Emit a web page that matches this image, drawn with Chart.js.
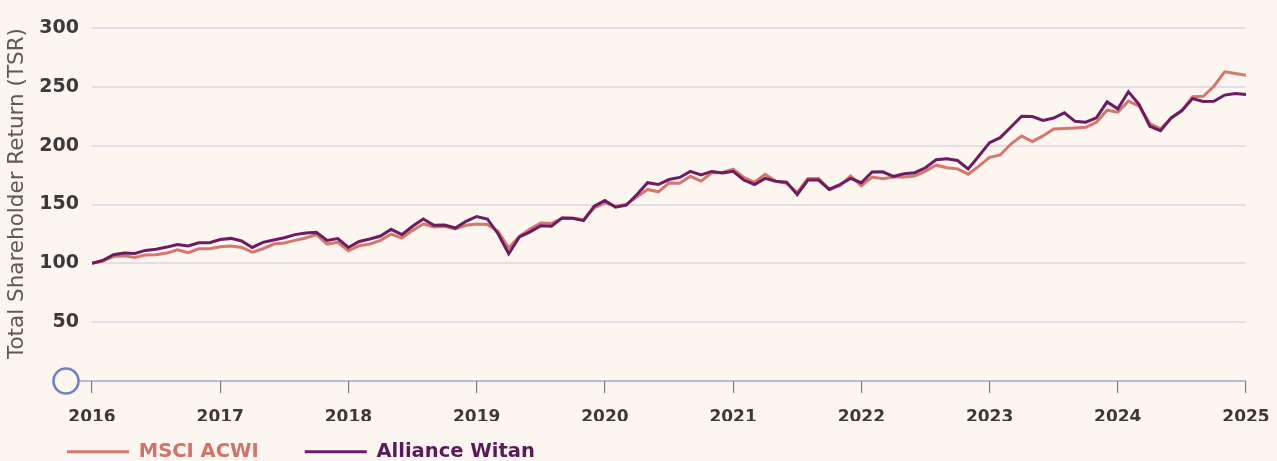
<!DOCTYPE html>
<html>
<head>
<meta charset="utf-8">
<script src="https://cdn.jsdelivr.net/npm/chart.js@4.4.1/dist/chart.umd.min.js"></script>
<style>
html, body { margin: 0; padding: 0; background: #fcf5f0; overflow: hidden; }
#wrap { width: 1277px; height: 461px; }
</style>
</head>
<body>
<div id="wrap"><canvas id="tsr" width="1277" height="461"></canvas></div>
<script>
// monthly TSR, rebased to 100 at start of 2016
var msciAcwi = [
  100, 102, 105.8, 106.4, 105, 107, 107.3, 108.7, 111.5, 109, 112.4, 112.4,
  114, 114.7, 113.5, 109.5, 112.4, 116.4, 117.3, 119.5, 121.5, 124.4, 116.4, 117.8,
  110.7, 115, 116.4, 119.5, 124.9, 121.5, 128, 133.5, 130.9, 131.5, 129.2, 132.3,
  133.5, 133, 127.2, 113, 123, 129.2, 134.3, 133.8, 138.6, 138.3, 137, 147.2,
  151.4, 148.5, 150, 156.6, 162.8, 160.8, 168.2, 168, 174, 169.9, 176.9, 177.2,
  180, 173, 168.9, 175.6, 169.7, 168, 160, 172, 172, 162.8, 166, 174.2,
  166, 173.3, 172, 173.3, 173.3, 174.2, 178.4, 183.4, 181.2, 180.3, 175.8, 182.6,
  190.1, 192.1, 201.4, 208.3, 203.5, 208.3, 214.2, 214.5, 215, 215.6, 219.9, 230.1,
  228.4, 237.8, 233.5, 218.8, 214.2, 223.6, 229.8, 241.5, 242, 250.5, 262.8, 261.4,
  259.9
];
var allianceWitan = [
  100, 102.4, 107.3, 108.7, 108.4, 111, 112, 113.8, 116, 114.7, 117.5, 117.5,
  120.3, 121.2, 119, 113.5, 117.8, 119.8, 121.8, 124.4, 125.8, 126.3, 119.5, 121,
  113.5, 118.6, 120.7, 123.2, 128.9, 124.4, 131.5, 137.7, 132.3, 132.6, 130, 135.7,
  139.8, 137.7, 125.2, 108.1, 122.5, 126.7, 132, 131.5, 138.6, 138.3, 136.3, 148.5,
  153.4, 147.7, 149.4, 158.5, 168.5, 167, 171.2, 173, 178.1, 175.2, 178.1, 176.8,
  178.2, 170.8, 167, 172.2, 169.7, 169, 158.5, 170.8, 170.8, 162.8, 167, 172.2,
  168.5, 177.7, 177.8, 173.9, 176.2, 177, 181.2, 188, 188.8, 187.4, 180.3, 191.2,
  202.6, 206.8, 215.9, 225, 224.7, 221.5, 223.5, 227.9, 220.7, 219.9, 223.6, 237.2,
  231.3, 245.8, 235, 216.5, 212.8, 223.6, 229.8, 240, 237.5, 237.8, 243, 244.3,
  243.5
];
var yearTicks = [2016, 2017, 2018, 2019, 2020, 2021, 2022, 2023, 2024, 2025];
var tsrTicks = [50, 100, 150, 200, 250, 300];
var seriesNames = ['MSCI ACWI', 'Alliance Witan'];

var lineColors = ['#d4776d', '#6d1c62'];
var legendColors = ['#d0736a', '#5a1a5a'];
var bg = '#fcf5f0';
var font = 'DejaVu Sans';

// x position of each monthly point (as a fractional year)
var months = msciAcwi.map(function (v, i) { return 2016 + i / 12; });

function toPoints(vals) {
  return vals.map(function (v, i) { return { x: months[i], y: v }; });
}

// zero line with the little circle at its start, and legend placement
var axisDecor = {
  id: 'axisDecor',
  afterLayout: function (chart) {
    chart.legend.left = 21;
    chart.legend.top = 396;
  },
  beforeDatasetsDraw: function (chart) {
    var ctx = chart.ctx, area = chart.chartArea;
    var y0 = chart.scales.y.getPixelForValue(0);
    var cx = area.left - 26, r = 12.5;
    ctx.save();
    ctx.strokeStyle = '#7480c4';
    ctx.lineWidth = 1.2;
    ctx.beginPath();
    ctx.moveTo(cx + r, y0);
    ctx.lineTo(area.right, y0);
    ctx.stroke();
    ctx.lineWidth = 2.6;
    ctx.fillStyle = bg;
    ctx.beginPath();
    ctx.arc(cx, y0, r, 0, Math.PI * 2);
    ctx.fill();
    ctx.stroke();
    ctx.restore();
  }
};

new Chart(document.getElementById('tsr'), {
  type: 'line',
  data: {
    datasets: [{
      label: seriesNames[0],
      data: toPoints(msciAcwi),
      borderColor: lineColors[0],
      backgroundColor: lineColors[0],
      borderWidth: 3,
      pointRadius: 0,
      tension: 0,
      order: 1
    }, {
      label: seriesNames[1],
      data: toPoints(allianceWitan),
      borderColor: lineColors[1],
      backgroundColor: lineColors[1],
      borderWidth: 3,
      pointRadius: 0,
      tension: 0,
      order: 0
    }]
  },
  options: {
    responsive: false,
    animation: false,
    devicePixelRatio: 1,
    layout: { padding: { top: 28, right: 31, bottom: 0, left: 0 } },
    plugins: {
      tooltip: { enabled: false },
      legend: {
        position: 'bottom',
        align: 'start',
        maxHeight: 40,
        labels: {
          boxWidth: 62,
          boxHeight: 3,
          padding: 46,
          font: { family: font, size: 19.5, weight: 'bold' },
          sort: function (a, b) { return a.datasetIndex - b.datasetIndex; },
          generateLabels: function (chart) {
            var items = Chart.defaults.plugins.legend.labels.generateLabels(chart);
            items.forEach(function (it) {
              it.lineWidth = 0;
              it.fillStyle = lineColors[it.datasetIndex];
              it.fontColor = legendColors[it.datasetIndex];
            });
            return items;
          }
        }
      }
    },
    scales: {
      x: {
        type: 'linear',
        min: 2016,
        max: 2025,
        afterFit: function (s) { s.height = 40; s.paddingRight = 0; },
        afterBuildTicks: function (s) {
          s.ticks = yearTicks.map(function (y) { return { value: y }; });
        },
        ticks: {
          padding: 14,
          maxRotation: 0,
          color: '#3a3a3a',
          font: { family: font, size: 17, weight: 'bold' },
          callback: function (v) { return String(v); }
        },
        grid: {
          drawOnChartArea: false,
          drawTicks: true,
          tickLength: 12,
          color: '#7d7d7d',
          lineWidth: 1.2
        },
        border: { display: false }
      },
      y: {
        min: 0,
        max: 300,
        afterFit: function (s) { s.width = 92; },
        afterBuildTicks: function (s) {
          s.ticks = [0].concat(tsrTicks).map(function (v) { return { value: v }; });
        },
        ticks: {
          padding: 13,
          color: '#3a3a3a',
          font: { family: font, size: 19, weight: 'bold' },
          callback: function (v) { return v === 0 ? '' : String(v); }
        },
        grid: {
          drawTicks: false,
          lineWidth: 2,
          color: function (c) { return c.tick && c.tick.value === 0 ? 'rgba(0,0,0,0)' : '#e3dee6'; }
        },
        border: { display: false },
        title: {
          display: true,
          text: 'Total Shareholder Return (TSR)',
          align: 'end',
          color: '#5a5a5a',
          padding: { top: 5, bottom: 0 },
          font: { family: font, size: 21.5 }
        }
      }
    }
  },
  plugins: [axisDecor]
});
</script>
</body>
</html>
